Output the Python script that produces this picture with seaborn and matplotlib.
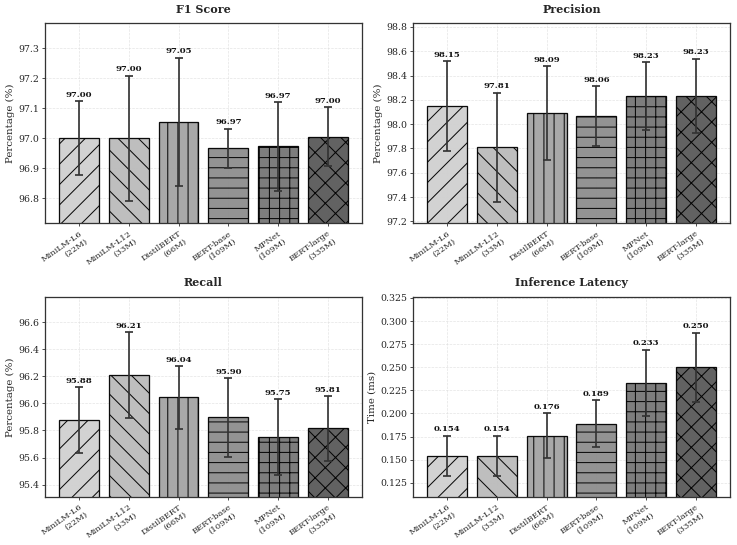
import numpy as np
import pandas as pd
import matplotlib
matplotlib.use("Agg")
import matplotlib.pyplot as plt
import seaborn as sns

models = ["MiniLM-L6\n(22M)", "MiniLM-L12\n(33M)", "DistilBERT\n(66M)",
          "BERT-base\n(109M)", "MPNet\n(109M)", "BERT-large\n(335M)"]

f1_mean = [97.00, 97.00, 97.055, 96.967, 96.973, 97.005]
f1_std = [0.123, 0.208, 0.213, 0.065, 0.147, 0.098]
f1_labels = ["97.00", "97.00", "97.05", "96.97", "96.97", "97.00"]

prec_mean = [98.15, 97.81, 98.09, 98.065, 98.23, 98.232]
prec_std = [0.37, 0.45, 0.385, 0.245, 0.28, 0.305]
prec_labels = ["98.15", "97.81", "98.09", "98.06", "98.23", "98.23"]

rec_mean = [95.876, 96.21, 96.044, 95.897, 95.75, 95.815]
rec_std = [0.245, 0.317, 0.233, 0.29, 0.28, 0.237]
rec_labels = ["95.88", "96.21", "96.04", "95.90", "95.75", "95.81"]

lat_mean = [0.154, 0.154, 0.176, 0.189, 0.233, 0.250]
lat_std = [0.022, 0.022, 0.024, 0.025, 0.036, 0.0375]
lat_labels = ["0.154", "0.154", "0.176", "0.189", "0.233", "0.250"]

colors = ["#d0d0d0", "#bbbbbb", "#a4a4a4", "#8d8d8d", "#767676", "#5a5a5a"]
hatches = ["/", "\\", "|", "-", "+", "x"]

sns.set_style("whitegrid")
plt.rcParams["font.family"] = ["DejaVu Serif"]
plt.rcParams["hatch.linewidth"] = 1.2

DPI = 737 / 12.0
fig, axes = plt.subplots(2, 2, figsize=(12, 545 / DPI), dpi=DPI)
fig.subplots_adjust(left=0.061, right=0.9905, top=0.958, bottom=0.088,
                    wspace=0.161, hspace=0.365)

panels = [
    ("F1 Score", f1_mean, f1_std, f1_labels, (96.717, 97.384), [96.8, 96.9, 97.0, 97.1, 97.2, 97.3], "Percentage (%)", "{:.1f}"),
    ("Precision", prec_mean, prec_std, prec_labels, (97.183, 98.833), [97.2, 97.4, 97.6, 97.8, 98.0, 98.2, 98.4, 98.6, 98.8], "Percentage (%)", "{:.1f}"),
    ("Recall", rec_mean, rec_std, rec_labels, (95.308, 96.79), [95.4, 95.6, 95.8, 96.0, 96.2, 96.4, 96.6], "Percentage (%)", "{:.1f}"),
    ("Inference Latency", lat_mean, lat_std, lat_labels, (0.1095, 0.3265), [0.125, 0.150, 0.175, 0.200, 0.225, 0.250, 0.275, 0.300, 0.325], "Time (ms)", "{:.3f}"),
]

for ax, (title, mean, std, labels, ylim, yticks, ylabel, fmt) in zip(axes.flat, panels):
    df = pd.DataFrame({"model": models, "value": mean})
    sns.barplot(data=df, x="model", y="value", hue="model", palette=colors,
                legend=False, errorbar=None, width=0.8, ax=ax,
                edgecolor="black", linewidth=1.5, alpha=0.95, saturation=1)
    for patch, h in zip(ax.patches, hatches):
        patch.set_hatch(h)
    x = np.arange(len(models))
    ax.errorbar(x, mean, yerr=std, fmt="none", ecolor="#333333",
                elinewidth=2.0, capsize=4.5, capthick=2.0, zorder=5)
    span = ylim[1] - ylim[0]
    for xi, m, s, lab in zip(x, mean, std, labels):
        ax.text(xi, m + s + span * 0.012, lab, ha="center", va="bottom",
                fontsize=10, fontweight="bold", color="#111111", zorder=6)
    ax.set_ylim(*ylim)
    ax.set_yticks(yticks)
    ax.set_yticklabels([fmt.format(t) for t in yticks], fontsize=11)
    ax.set_xticks(x)
    ax.set_xticklabels(models, rotation=35, ha="right", rotation_mode="anchor",
                       fontsize=10)
    ax.set_xlabel("")
    ax.set_ylabel(ylabel, fontsize=12)
    ax.set_title(title, fontsize=13, fontweight="bold", pad=12)
    ax.grid(True, linestyle="--", linewidth=0.8, color="#dddddd", alpha=0.8)
    ax.set_axisbelow(True)
    for sp in ax.spines.values():
        sp.set_color("#333333")
        sp.set_linewidth(1.5)
    ax.tick_params(axis="both", which="both", length=4, width=1.0, color="#333333",
                   direction="out", bottom=True, left=True, pad=3)

fig.savefig("out.png", dpi=DPI)
